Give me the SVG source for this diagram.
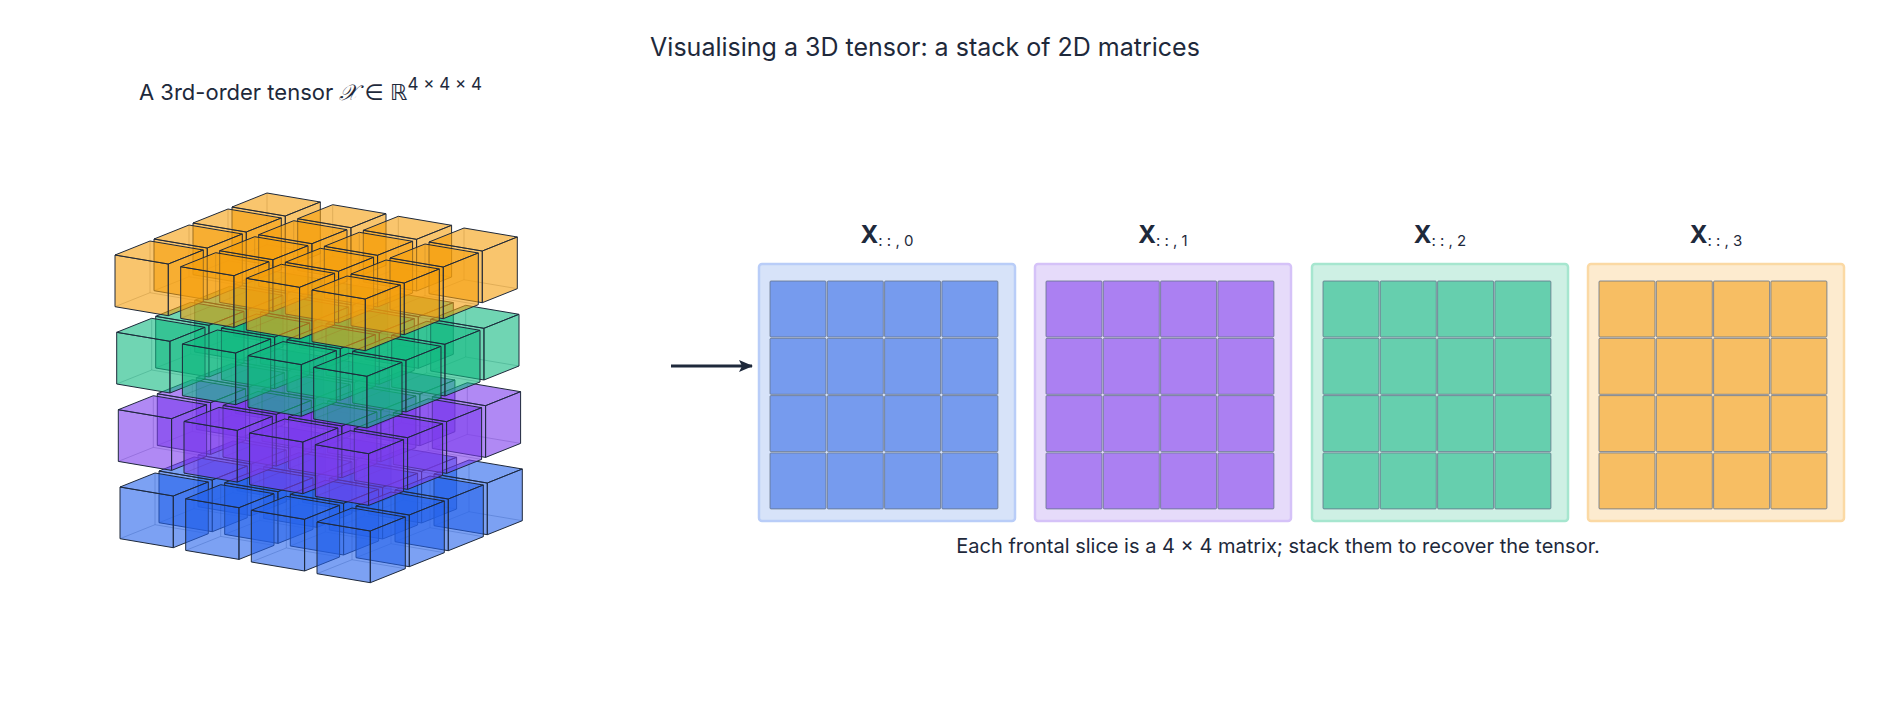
<svg xmlns="http://www.w3.org/2000/svg" xmlns:xlink="http://www.w3.org/1999/xlink" width="1899" height="709" viewBox="0 0 1899 709">
<style>
text{font-family:Inter,"DejaVu Sans",sans-serif;fill:#1e293b}
.face{fill-opacity:0.6;stroke:#1e293b;stroke-width:1;stroke-linejoin:round}
.hid{fill:none;stroke:#1e293b;stroke-opacity:0.35;stroke-width:0.8}
.cell{stroke:#64748b;stroke-width:0.8}
</style>
<defs>
<marker id="ah" markerWidth="14" markerHeight="12" refX="13" refY="6" orient="auto" markerUnits="userSpaceOnUse"><path d="M0,0 L14,6 L0,12 L3,6 Z" fill="#1e293b"/></marker>
<g id="cube">
<path class="hid" d="M0,51.7 L35,37.7 L35,-14 M35,37.7 L88.3,46.7"/>
<path class="face" d="M0,0 L53.3,9 L53.3,60.7 L0,51.7 Z"/>
<path class="face" d="M0,0 L53.3,9 L88.3,-5 L35,-14 Z"/>
<path class="face" d="M53.3,9 L88.3,-5 L88.3,46.7 L53.3,60.7 Z"/>
</g>
<g id="row"><use xlink:href="#cube"/><use xlink:href="#cube" x="65.7" y="11.7"/><use xlink:href="#cube" x="131.3" y="23.3"/><use xlink:href="#cube" x="197" y="35"/></g>
<g id="layer"><use xlink:href="#row" x="117" y="-48"/><use xlink:href="#row" x="78" y="-32"/><use xlink:href="#row" x="39" y="-16"/><use xlink:href="#row"/></g>
</defs>
<text x="925" y="56" font-size="25" text-anchor="middle">Visualising a 3D tensor: a stack of 2D matrices</text>
<text x="139" y="100" font-size="22">A 3rd-order tensor  <tspan font-family="DejaVu Serif,serif" font-style="italic">𝒳</tspan> ∈ ℝ<tspan font-size="17" dy="-10">4 × 4 × 4</tspan></text>
<g id="tensor">
<use xlink:href="#layer" x="120" y="487" fill="#2563eb"/>
<use xlink:href="#layer" x="118.3" y="409.7" fill="#7c3aed"/>
<use xlink:href="#layer" x="116.7" y="332.3" fill="#10b981"/>
<use xlink:href="#layer" x="115" y="255" fill="#f59e0b"/>
</g>
<g id="connectors"><line x1="671" y1="366" x2="752" y2="366" stroke="#1e293b" stroke-width="3" marker-end="url(#ah)"/></g>
<defs>
<g id="grid">
<rect class="cell" x="0" y="0" width="56" height="56" rx="1"/><rect class="cell" x="57.3" y="0" width="56" height="56" rx="1"/><rect class="cell" x="114.6" y="0" width="56" height="56" rx="1"/><rect class="cell" x="171.9" y="0" width="56" height="56" rx="1"/>
<rect class="cell" x="0" y="57.3" width="56" height="56" rx="1"/><rect class="cell" x="57.3" y="57.3" width="56" height="56" rx="1"/><rect class="cell" x="114.6" y="57.3" width="56" height="56" rx="1"/><rect class="cell" x="171.9" y="57.3" width="56" height="56" rx="1"/>
<rect class="cell" x="0" y="114.6" width="56" height="56" rx="1"/><rect class="cell" x="57.3" y="114.6" width="56" height="56" rx="1"/><rect class="cell" x="114.6" y="114.6" width="56" height="56" rx="1"/><rect class="cell" x="171.9" y="114.6" width="56" height="56" rx="1"/>
<rect class="cell" x="0" y="171.9" width="56" height="56" rx="1"/><rect class="cell" x="57.3" y="171.9" width="56" height="56" rx="1"/><rect class="cell" x="114.6" y="171.9" width="56" height="56" rx="1"/><rect class="cell" x="171.9" y="171.9" width="56" height="56" rx="1"/>
</g>
</defs>
<g id="slice0">
<rect x="759" y="264" width="256" height="257" rx="3" fill="#d7e3f9" stroke="#b9cdf8" stroke-width="2.5"/>
<use xlink:href="#grid" x="770" y="281" fill="#769bee"/>
<text x="887" y="243" font-size="24" font-weight="bold" text-anchor="middle">X<tspan font-size="15" font-weight="normal" dy="3">: : , 0</tspan></text>
</g>
<g id="slice1">
<rect x="1035" y="264" width="256" height="257" rx="3" fill="#e6dbfa" stroke="#d5c2f8" stroke-width="2.5"/>
<use xlink:href="#grid" x="1046" y="281" fill="#ab80f2"/>
<text x="1163" y="243" font-size="24" font-weight="bold" text-anchor="middle">X<tspan font-size="15" font-weight="normal" dy="3">: : , 1</tspan></text>
</g>
<g id="slice2">
<rect x="1312" y="264" width="256" height="257" rx="3" fill="#cef0e4" stroke="#a6e6cf" stroke-width="2.5"/>
<use xlink:href="#grid" x="1323" y="281" fill="#66cfae"/>
<text x="1440" y="243" font-size="24" font-weight="bold" text-anchor="middle">X<tspan font-size="15" font-weight="normal" dy="3">: : , 2</tspan></text>
</g>
<g id="slice3">
<rect x="1588" y="264" width="256" height="257" rx="3" fill="#fdebcf" stroke="#fbd9a4" stroke-width="2.5"/>
<use xlink:href="#grid" x="1599" y="281" fill="#f7be63"/>
<text x="1716" y="243" font-size="24" font-weight="bold" text-anchor="middle">X<tspan font-size="15" font-weight="normal" dy="3">: : , 3</tspan></text>
</g>
<text x="1278" y="553" font-size="20" text-anchor="middle">Each frontal slice is a 4 × 4 matrix; stack them to recover the tensor.</text>
</svg>
